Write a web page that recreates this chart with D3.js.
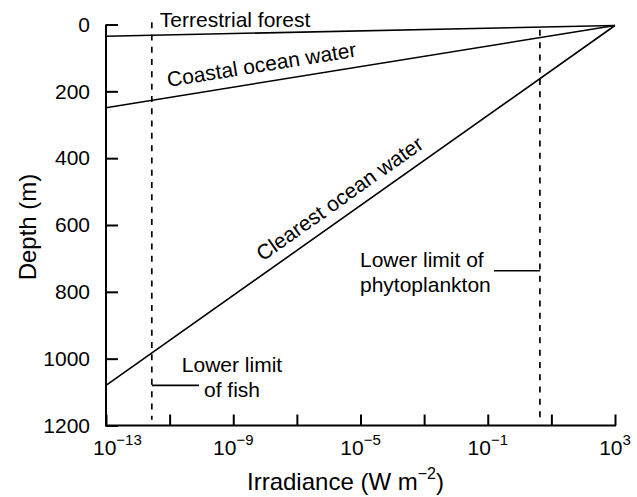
<!DOCTYPE html>
<html>
<head>
<meta charset="utf-8">
<script src="https://cdn.jsdelivr.net/npm/d3@7"></script>
<style>
  html, body { margin: 0; padding: 0; background: #fff; }
  svg { display: block; font-family: "Liberation Sans", Arial, Helvetica, sans-serif; }
</style>
</head>
<body>
<svg id="chart" width="637" height="497"></svg>
<script>
// ---- Data ----
const seriesNames = ["Terrestrial forest", "Coastal ocean water", "Clearest ocean water"];
const surfaceIrradiance = 1e3;          // W m^-2 at the top (apex)
const surfaceDepth = 3;                 // m
const minIrradiance = 1e-13;            // left edge of the plot
const depthAtMinIrradiance = [35, 249, 1080]; // m, for each series
const depthTicks = [0, 200, 400, 600, 800, 1000, 1200];
const irradianceTickExponents = [-13, -11, -9, -7, -5, -3, -1, 1, 3];
const irradianceLabelExponents = [-13, -9, -5, -1, 3];
const limitNames = ["Lower limit of fish", "Lower limit of phytoplankton"];
const limitIrradiance = [Math.pow(10, -11.56), Math.pow(10, 0.64)];

// ---- Layout ----
const svg = d3.select("#chart");
const x = d3.scaleLog().domain([1e-13, 1e3]).range([106, 615]);
const y = d3.scaleLinear().domain([0, 1200]).range([24.5, 425.5]);
const FONT = 21;

// Series lines
const seriesData = seriesNames.map((name, i) => ({
  name,
  points: [[minIrradiance, depthAtMinIrradiance[i]], [surfaceIrradiance, surfaceDepth]]
}));
const line = d3.line().x(d => x(d[0])).y(d => y(d[1]));
svg.append("g").selectAll("path").data(seriesData).join("path")
  .attr("d", d => line(d.points))
  .attr("fill", "none").attr("stroke", "#000").attr("stroke-width", 1.6);

// Dashed limit lines
const limitExtents = [[-7, 1183], [16, 1183]];
svg.append("g").selectAll("line").data(limitIrradiance).join("line")
  .attr("x1", d => x(d)).attr("x2", d => x(d))
  .attr("y1", (d, i) => y(limitExtents[i][0]))
  .attr("y2", (d, i) => y(limitExtents[i][1]))
  .attr("stroke", "#000").attr("stroke-width", 1.7)
  .attr("stroke-dasharray", "6,6.3");

// Axes
const yAxis = d3.axisLeft(y).tickValues(depthTicks).tickSize(-12).tickPadding(16).tickFormat(d3.format("d"));
const gy = svg.append("g").attr("transform", `translate(${x.range()[0]},0)`).call(yAxis);
gy.select(".domain").attr("stroke-width", 2).attr("d", `M0,${y(0)}V${y(1200)}`);
gy.selectAll(".tick line").attr("stroke-width", 2);
gy.selectAll(".tick text").attr("font-size", FONT).attr("font-family", null).attr("fill", "#000");

const xAxis = d3.axisBottom(x).tickValues(irradianceTickExponents.map(e => Math.pow(10, e)))
  .tickSize(-11).tickFormat("");
const gx = svg.append("g").attr("transform", `translate(0,${y(1200)})`).call(xAxis);
gx.select(".domain").attr("stroke-width", 2).attr("d", `M${x.range()[0] - 1},0H${x.range()[1] + 1}`);
gx.selectAll(".tick line").attr("stroke-width", 2);
gy.select(".domain").raise();

// X tick labels with superscripts
const xl = svg.append("g").attr("font-size", FONT);
irradianceLabelExponents.forEach((e, i) => {
  const t = xl.append("text").attr("y", y(1200) + 29.5)
    .attr("x", i === 0 ? x(Math.pow(10, e)) - 13 : x(Math.pow(10, e)))
    .attr("text-anchor", i === 0 ? "start" : "middle");
  t.append("tspan").text("10");
  t.append("tspan").attr("font-size", 15).attr("dy", -10)
    .text(e < 0 ? "\u2212" + Math.abs(e) : String(e));
});

// Axis titles
svg.append("text")
  .attr("transform", `translate(36,${(y(0) + y(1200)) / 2 + 2}) rotate(-90)`)
  .attr("text-anchor", "middle").attr("font-size", 24).text("Depth (m)");
const xt = svg.append("text").attr("x", 247).attr("y", 490).attr("font-size", 24);
xt.append("tspan").text("Irradiance (W m");
xt.append("tspan").attr("font-size", 16).attr("dy", -11).text("\u22122");
xt.append("tspan").attr("dy", 11).text(")");

// Series labels
svg.append("text").attr("x", x(limitIrradiance[0]) + 8).attr("y", y(0) + 2.2)
  .attr("font-size", FONT).text(seriesNames[0]);

function lineLabel(i, atIrr, offset) {
  const p0 = [x(minIrradiance), y(depthAtMinIrradiance[i])];
  const p1 = [x(surfaceIrradiance), y(surfaceDepth)];
  const angle = Math.atan2(p1[1] - p0[1], p1[0] - p0[0]) * 180 / Math.PI;
  const t = (Math.log10(atIrr) - Math.log10(minIrradiance)) / (Math.log10(surfaceIrradiance) - Math.log10(minIrradiance));
  const px = p0[0] + t * (p1[0] - p0[0]);
  const py = p0[1] + t * (p1[1] - p0[1]);
  svg.append("text")
    .attr("transform", `translate(${px},${py}) rotate(${angle})`)
    .attr("y", -offset).attr("font-size", FONT).text(seriesNames[i]);
}
lineLabel(1, Math.pow(10, -10.99), 10.5);
lineLabel(2, Math.pow(10, -7.88), 10.5);

// Limit annotations
const ann = svg.append("g").attr("font-size", FONT);
// fish
ann.append("line").attr("x1", x(limitIrradiance[0])).attr("x2", 199)
  .attr("y1", y(1080)).attr("y2", y(1080)).attr("stroke", "#000").attr("stroke-width", 1.6);
ann.append("text").attr("x", 232).attr("y", 371.7).attr("text-anchor", "middle").text("Lower limit");
ann.append("text").attr("x", 232).attr("y", 396.7).attr("text-anchor", "middle").text("of fish");
// phytoplankton
ann.append("line").attr("x1", 494).attr("x2", x(limitIrradiance[1]))
  .attr("y1", y(737)).attr("y2", y(737)).attr("stroke", "#000").attr("stroke-width", 1.6);
ann.append("text").attr("x", 360).attr("y", 266.7).text("Lower limit of");
ann.append("text").attr("x", 360).attr("y", 291.7).text("phytoplankton");
</script>
</body>
</html>
